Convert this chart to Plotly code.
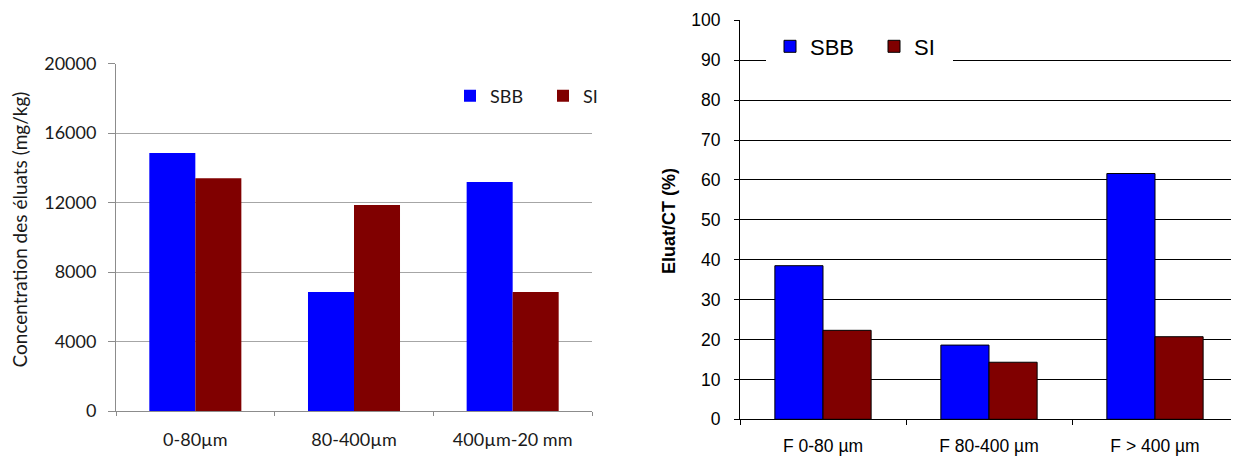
import plotly.graph_objects as go

# ---------------- data ----------------
series_names = ["SBB", "SI"]
series_colors = ["#0000FF", "#800000"]

left_categories = ["0-80µm", "80-400µm", "400µm-20 mm"]
left_sbb = [14850, 6850, 13180]
left_si = [13400, 11850, 6850]
left_yticks = [0, 4000, 8000, 12000, 16000, 20000]
left_ytitle = "Concentration des éluats (mg/kg)"

right_categories = ["F 0-80 µm", "F 80-400 µm", "F > 400 µm"]
right_sbb = [38.5, 18.6, 61.6]
right_si = [22.3, 14.3, 20.7]
right_yticks = [0, 10, 20, 30, 40, 50, 60, 70, 80, 90, 100]
right_ytitle = "Eluat/CT (%)"

# page has an 8px body margin: figure is drawn offset by (8, 8)
OFF = 8
W, H = 1239 - OFF, 459 - OFF
LEFT_FONT = "Lato, 'Open Sans', sans-serif"
RIGHT_FONT = "Arial, 'Liberation Sans', sans-serif"

fig = go.Figure()

for name, color, vals in zip(series_names, series_colors, [left_sbb, left_si]):
    fig.add_trace(go.Bar(
        x=left_categories, y=vals, name=name,
        marker=dict(color=color, line=dict(width=0)),
        xaxis="x", yaxis="y", legend="legend",
    ))

for name, color, vals in zip(series_names, series_colors, [right_sbb, right_si]):
    fig.add_trace(go.Bar(
        x=right_categories, y=vals, name=name,
        marker=dict(color=color, line=dict(color="#000000", width=1)),
        xaxis="x2", yaxis="y2", legend="legend2",
    ))

def px_x(p):
    return (p - OFF) / W

def px_y(p):
    return (459 - p) / H

fig.update_layout(
    template="none",
    width=W, height=H,
    margin=dict(l=0, r=0, t=0, b=0, pad=0),
    paper_bgcolor="white", plot_bgcolor="white",
    barmode="group", bargap=0.42, bargroupgap=0,
    showlegend=True,
    xaxis=dict(
        domain=[px_x(116), px_x(592)], anchor="y", automargin=False,
        showgrid=False, showline=True, linecolor="#8c8c8c", linewidth=1,
        ticks="outside", tickson="boundaries", ticklen=4, tickcolor="#8c8c8c",
        tickfont=dict(family=LEFT_FONT, size=18, color="#1a1a1a"),
        ticklabelstandoff=12,
    ),
    yaxis=dict(
        domain=[px_y(411), px_y(63.5)], anchor="x", automargin=False,
        range=[0, 20000], tickvals=left_yticks,
        ticktext=[str(v) for v in left_yticks],
        showgrid=True, gridcolor="#a6a6a6", gridwidth=1,
        showline=True, linecolor="#8c8c8c", linewidth=1, zeroline=False,
        ticks="outside", ticklen=7, tickcolor="#8c8c8c",
        tickfont=dict(family=LEFT_FONT, size=18, color="#1a1a1a"),
        ticklabelstandoff=8,
    ),
    xaxis2=dict(
        domain=[px_x(740), px_x(1238)], anchor="y2", automargin=False,
        showgrid=False, showline=True, linecolor="#000000", linewidth=1,
        ticks="outside", tickson="boundaries", ticklen=5, tickcolor="#000000",
        tickfont=dict(family=RIGHT_FONT, size=17.5, color="#000000"),
        ticklabelstandoff=11,
    ),
    yaxis2=dict(
        domain=[px_y(419.3), px_y(20.3)], anchor="x2", automargin=False,
        range=[0, 100], tickvals=right_yticks,
        showgrid=True, gridcolor="#000000", gridwidth=1,
        showline=True, linecolor="#000000", linewidth=1, zeroline=False,
        ticks="outside", ticklen=5, tickcolor="#000000",
        tickfont=dict(family=RIGHT_FONT, size=17.5, color="#000000"),
        ticklabelstandoff=10,
    ),
    legend=dict(
        orientation="h", x=px_x(450), y=px_y(96), xanchor="left", yanchor="middle",
        bgcolor="rgba(0,0,0,0)", borderwidth=0, entrywidth=48,
        font=dict(family=LEFT_FONT, size=18, color="#1a1a1a"),
        traceorder="normal",
    ),
    legend2=dict(
        orientation="h", x=px_x(770), y=px_y(46.5), xanchor="left", yanchor="middle",
        bgcolor="rgba(0,0,0,0)", borderwidth=0, entrywidth=59,
        font=dict(family=RIGHT_FONT, size=22, color="#000000"),
        traceorder="normal",
    ),
    shapes=[dict(
        type="rect", xref="paper", yref="paper",
        x0=px_x(766), x1=px_x(953), y0=px_y(63), y1=1.0,
        fillcolor="white", line=dict(width=0), layer="above",
    )],
    annotations=[
        dict(text=left_ytitle, xref="paper", yref="paper",
             x=px_x(19.5), y=px_y(230), textangle=-90, showarrow=False,
             xanchor="center", yanchor="middle",
             font=dict(family=LEFT_FONT, size=19, color="#1a1a1a")),
        dict(text="<b>" + right_ytitle + "</b>", xref="paper", yref="paper",
             x=px_x(669), y=px_y(221), textangle=-90, showarrow=False,
             xanchor="center", yanchor="middle",
             font=dict(family=RIGHT_FONT, size=18, color="#000000")),
    ],
)

fig.write_html("out.html")
